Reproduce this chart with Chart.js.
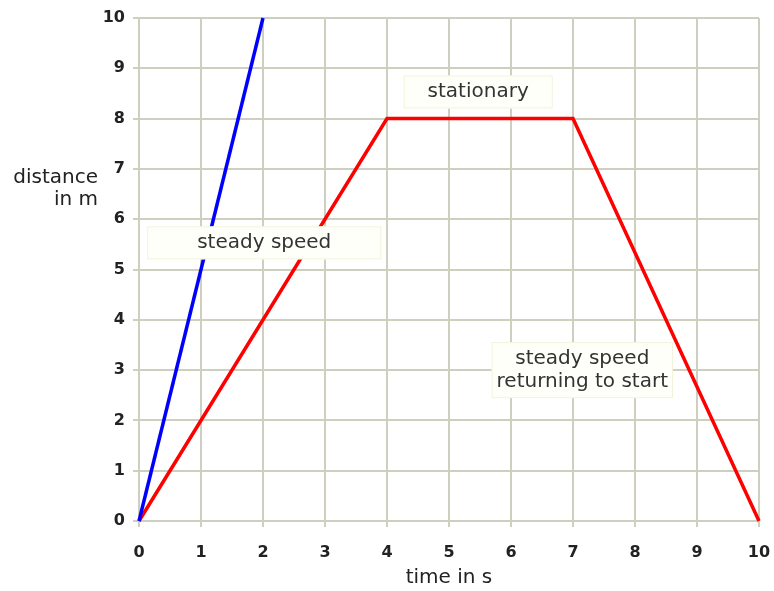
<!DOCTYPE html>
<html lang="en">
<head>
    <meta charset="UTF-8">
    <title>Distance-time graph</title>
    <script src="https://cdn.jsdelivr.net/npm/chart.js"></script>
    <style>
        body {
            margin: 0;
            padding: 0;
            background-color: #ffffff;
        }
        #wrap {
            width: 774px;
            height: 591px;
        }
    </style>
</head>
<body>
    <div id="wrap"><canvas id="graph"></canvas></div>

    <script>
        // Data
        const fastTime = [0, 2];
        const fastDistance = [0, 10];
        const tripTime = [0, 4, 7, 10];
        const tripDistance = [0, 8, 8, 0];
        const xTicks = [0, 1, 2, 3, 4, 5, 6, 7, 8, 9, 10];
        const yTicks = [0, 1, 2, 3, 4, 5, 6, 7, 8, 9, 10];
        const xTitle = 'time in s';
        const yTitle = ['distance', 'in m'];

        // Text labels, placed in data units
        const noteText = [['steady speed'], ['stationary'], ['steady speed', 'returning to start']];
        const noteX = [2.02, 5.47, 7.15];
        const noteY = [5.53, 8.53, 3.0];

        const gridColor = '#cfcfc0';
        const textFont = '"DejaVu Sans", sans-serif';

        const toPoints = (xs, ys) => xs.map((x, i) => ({ x: x, y: ys[i] }));

        // Boxes with labels, drawn on top of the lines
        const notesPlugin = {
            id: 'notes',
            afterDatasetsDraw(chart) {
                const ctx = chart.ctx;
                const xs = chart.scales.x;
                const ys = chart.scales.y;
                ctx.save();
                ctx.font = '20px ' + textFont;
                ctx.textAlign = 'center';
                ctx.textBaseline = 'middle';
                noteText.forEach((lines, i) => {
                    const cx = xs.getPixelForValue(noteX[i]);
                    const cy = ys.getPixelForValue(noteY[i]);
                    const lineH = 23;
                    let w = 0;
                    lines.forEach(l => { w = Math.max(w, ctx.measureText(l).width); });
                    const padX = lines.length > 1 ? 5 : (i === 0 ? 50 : 24);
                    const boxW = w + padX * 2;
                    const boxH = lines.length * lineH + 10;
                    ctx.fillStyle = '#fffffa';
                    ctx.fillRect(cx - boxW / 2, cy - boxH / 2, boxW, boxH);
                    ctx.strokeStyle = '#f3f3dc';
                    ctx.lineWidth = 1;
                    ctx.strokeRect(cx - boxW / 2 + 0.5, cy - boxH / 2 + 0.5, boxW - 1, boxH - 1);
                    ctx.fillStyle = '#333333';
                    lines.forEach((l, j) => {
                        ctx.fillText(l, cx, cy + (j - (lines.length - 1) / 2) * lineH);
                    });
                });

                // Axis titles
                ctx.fillStyle = '#222222';
                ctx.textAlign = 'center';
                ctx.fillText(xTitle, (chart.chartArea.left + chart.chartArea.right) / 2, 578);
                ctx.textAlign = 'right';
                yTitle.forEach((l, j) => {
                    ctx.fillText(l, 98, 178 + j * 22);
                });
                ctx.restore();
            }
        };

        const tickStyle = {
            color: '#222222',
            font: { family: textFont, size: 16, weight: 'bold' }
        };

        new Chart(document.getElementById('graph'), {
            type: 'scatter',
            data: {
                datasets: [
                    {
                        label: 'fast',
                        data: toPoints(fastTime, fastDistance),
                        showLine: true,
                        borderColor: '#0000ff',
                        borderWidth: 3.5,
                        pointRadius: 0,
                        clip: 4
                    },
                    {
                        label: 'trip',
                        data: toPoints(tripTime, tripDistance),
                        showLine: true,
                        borderColor: '#ff0000',
                        borderWidth: 3.5,
                        pointRadius: 0,
                        clip: 4
                    }
                ]
            },
            options: {
                responsive: true,
                maintainAspectRatio: false,
                animation: false,
                layout: { padding: { top: 18, right: 15, left: 0, bottom: 0 } },
                plugins: {
                    legend: { display: false },
                    tooltip: { enabled: false }
                },
                scales: {
                    x: {
                        type: 'linear',
                        min: 0,
                        max: 10,
                        afterBuildTicks: s => { s.ticks = xTicks.map(v => ({ value: v })); },
                        afterFit: s => { s.height = 70; s.paddingLeft = 0; s.paddingRight = 0; },
                        grid: { color: gridColor, lineWidth: 2, tickLength: 6 },
                        border: { color: gridColor, width: 2 },
                        ticks: Object.assign({ padding: 16, maxRotation: 0 }, tickStyle)
                    },
                    y: {
                        type: 'linear',
                        min: 0,
                        max: 10,
                        afterBuildTicks: s => { s.ticks = yTicks.map(v => ({ value: v })); },
                        afterFit: s => { s.width = 139; s.paddingTop = 0; s.paddingBottom = 0; },
                        grid: { color: gridColor, lineWidth: 2, tickLength: 6 },
                        border: { color: gridColor, width: 2 },
                        ticks: Object.assign({ padding: 8 }, tickStyle)
                    }
                }
            },
            plugins: [notesPlugin]
        });
    </script>
</body>
</html>
